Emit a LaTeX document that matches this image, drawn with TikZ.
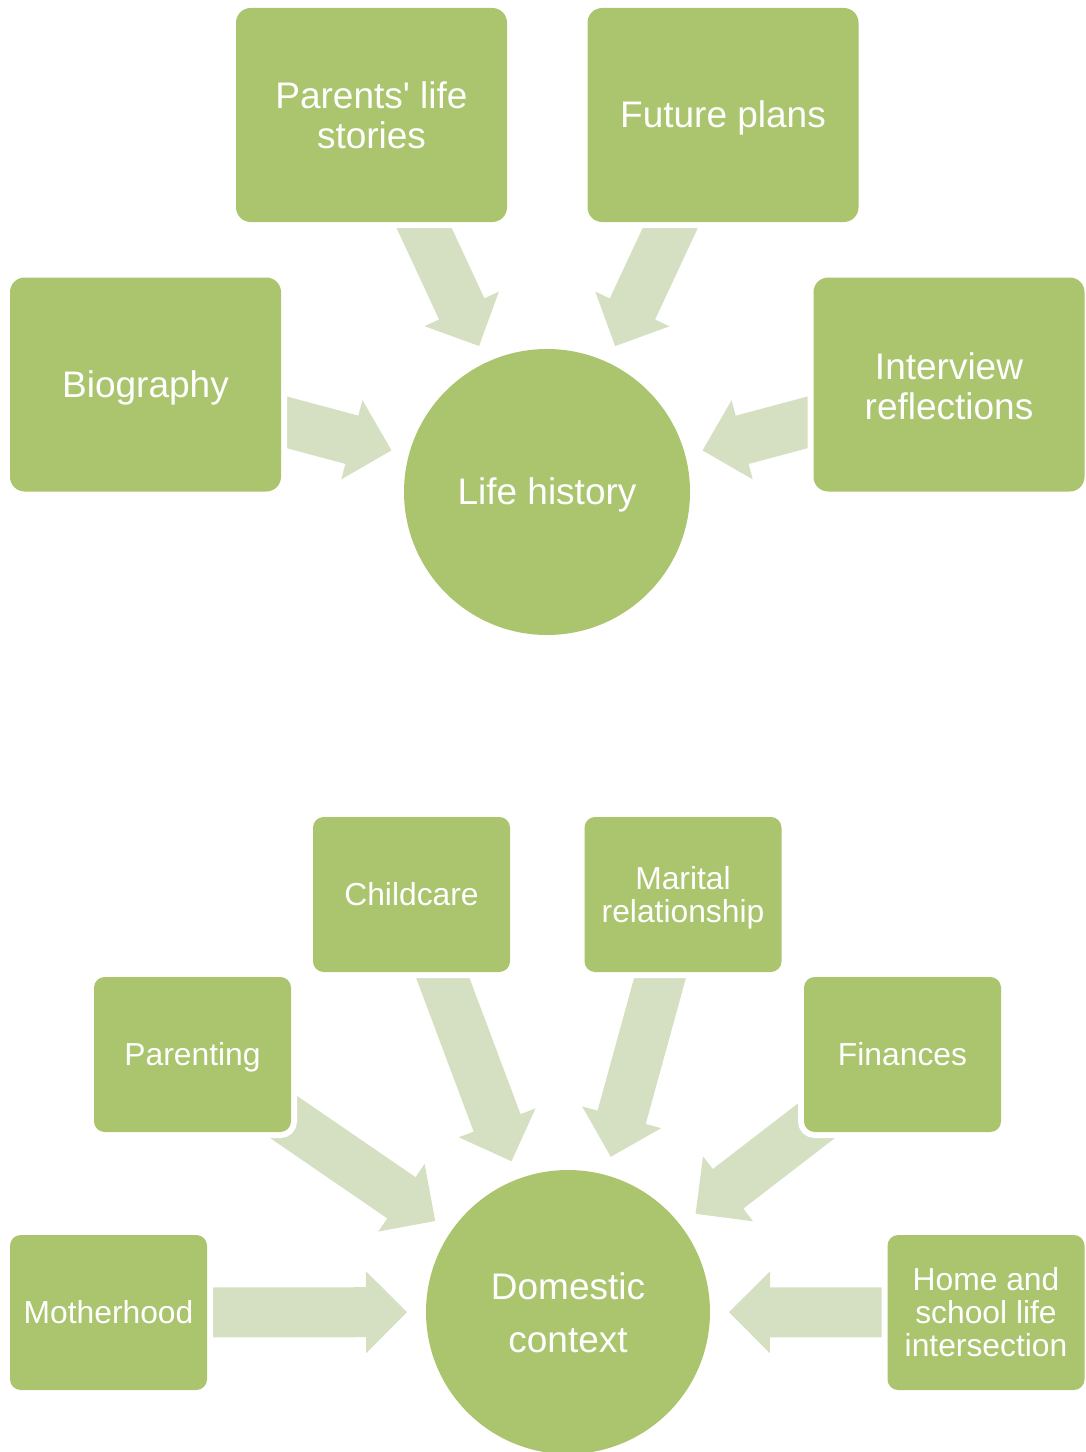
\documentclass[tikz,border=0pt]{standalone}
\usepackage{fontspec}
\setmainfont{Liberation Sans}
\usetikzlibrary{calc,backgrounds}
\definecolor{boxgreen}{RGB}{171,196,110}
\definecolor{arrowgreen}{RGB}{213,224,194}
% block arrow from the centre of node #1 towards the centre of circle node #2
\newcommand\blockarrow[2]{%
  \coordinate (#1-tip) at ($(#2.center)!120.75pt!(#1.center)$);
  \coordinate (#1-base) at ($(#1-tip)!30.75pt!(#1.center)$);
  \fill[arrowfill]
    ($(#1.center)!18.75pt!90:(#1-tip)$) --
    ($(#1-base)!18.75pt!90:(#1-tip)$) --
    ($(#1-base)!30.75pt!90:(#1-tip)$) --
    (#1-tip) --
    ($(#1-base)!30.75pt!-90:(#1-tip)$) --
    ($(#1-base)!18.75pt!-90:(#1-tip)$) --
    ($(#1.center)!18.75pt!-90:(#1-tip)$) -- cycle;
}
% raises the first line of a multi-line label, moving the block lower
\newcommand\firststrut[1]{\rule{0pt}{\dimexpr0.729em+#1\relax}}
\tikzset{
  arrowfill/.style={fill=arrowgreen},
  linebox/.style={execute at begin node={\rule{0pt}{0.905em}},
    execute at end node={\rule[-0.212em]{0pt}{0pt}}},
  boxbase/.style={rectangle, fill=boxgreen, text=white, align=center,
    inner sep=0pt, outer sep=0pt, linebox,
    preaction={draw=white, line width=9pt}},
  bigbox/.style={boxbase, minimum width=203.25pt, minimum height=160.5pt,
    rounded corners=11pt, font=\fontsize{27.75pt}{30pt}\selectfont},
  smallbox/.style={boxbase, minimum width=147.75pt, minimum height=116.25pt,
    rounded corners=8pt, font=\fontsize{23.85pt}{24.75pt}\selectfont},
  hub/.style={circle, fill=boxgreen, text=white, align=center,
    inner sep=0pt, outer sep=0pt, linebox},
}
\begin{document}
\begin{tikzpicture}[x=0.75pt,y=-0.75pt]
\useasboundingbox (0,0) rectangle (1085,1452);

% ---- upper diagram ----
\node[hub, minimum size=214.5pt, font=\fontsize{27.75pt}{30pt}\selectfont] (life) at (547,492) {Life history};
\node[bigbox] (parents) at (371.5,115) {\firststrut{6pt}Parents\textquotesingle{} life\\stories};
\node[bigbox] (future) at (723,115) {Future plans};
\node[bigbox] (bio) at (145.5,384.5) {Biography};
\node[bigbox] (interview) at (949,384.5) {\firststrut{7.5pt}Interview\\reflections};

% ---- lower diagram ----
\node[hub, minimum size=213pt, font=\fontsize{27.75pt}{39.75pt}\selectfont] (domestic) at (568,1312) {\firststrut{6pt}Domestic\\context};
\node[smallbox] (childcare) at (411.5,894.5) {Childcare};
\node[smallbox] (marital) at (683,894.5) {\firststrut{4.5pt}Marital\\relationship};
\node[smallbox] (parenting) at (192.5,1054.5) {Parenting};
\node[smallbox] (finances) at (902.5,1054.5) {Finances};
\node[smallbox] (motherhood) at (108.5,1312.5) {Motherhood};
\node[smallbox] (home) at (986,1312.5) {\firststrut{3.75pt}Home and\\school life\\intersection};

\begin{pgfonlayer}{background}
  \blockarrow{parents}{life}
  \blockarrow{future}{life}
  \blockarrow{bio}{life}
  \blockarrow{interview}{life}
  \blockarrow{childcare}{domestic}
  \blockarrow{marital}{domestic}
  \blockarrow{parenting}{domestic}
  \blockarrow{finances}{domestic}
  \blockarrow{motherhood}{domestic}
  \blockarrow{home}{domestic}
\end{pgfonlayer}
\end{tikzpicture}
\end{document}
